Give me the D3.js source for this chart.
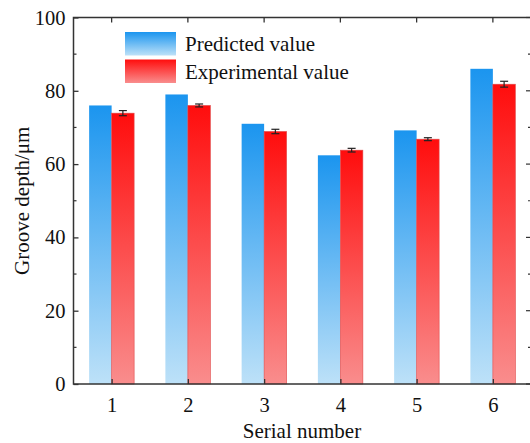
<!DOCTYPE html>
<html>
<head>
<meta charset="utf-8">
<script src="https://cdn.jsdelivr.net/npm/d3@7/dist/d3.min.js"></script>
<style>
  html, body { margin: 0; padding: 0; background: #fff; }
  svg { display: block; }
</style>
</head>
<body>
<svg id="chart" width="530" height="443"></svg>
<script>
// Groove depth: predicted vs experimental, per serial number
const serials = [1, 2, 3, 4, 5, 6];
const predicted = [76.0, 79.0, 71.0, 62.4, 69.2, 86.0];
const experimental = [73.9, 76.0, 68.9, 63.8, 66.8, 81.8];
const experimentalErr = [0.7, 0.4, 0.6, 0.5, 0.4, 0.8];
const yTicks = [0, 20, 40, 60, 80, 100];
const seriesNames = ["Predicted value", "Experimental value"];

const FONT = '"Liberation Serif", "Times New Roman", Tinos, serif';

const svg = d3.select("#chart");
const margin = { left: 73.5, top: 17.5, right: -1, bottom: 59 };
const W = 530, H = 443;

const x = d3.scaleLinear().domain([0.5, 6.5]).range([margin.left, W - margin.right]);
const y = d3.scaleLinear().domain([0, 100]).range([H - margin.bottom, margin.top]);
const barW = 0.295; // in category units

// gradients
const defs = svg.append("defs");
function grad(id, top, bottom) {
  const g = defs.append("linearGradient").attr("id", id)
    .attr("x1", 0).attr("y1", 0).attr("x2", 0).attr("y2", 1);
  g.append("stop").attr("offset", "0%").attr("stop-color", top);
  g.append("stop").attr("offset", "100%").attr("stop-color", bottom);
}
grad("gBlue", "#1b95ef", "#bde1f8");
grad("gRed", "#ff0d0d", "#f98d8d");

// bars
const bars = svg.append("g");
bars.selectAll("rect.pred").data(serials).join("rect")
  .attr("class", "pred")
  .attr("x", (d) => x(d - barW))
  .attr("width", (d) => x(d) - x(d - barW))
  .attr("y", (d, i) => y(predicted[i]))
  .attr("height", (d, i) => y(0) - y(predicted[i]))
  .attr("fill", "url(#gBlue)");

bars.selectAll("rect.exp").data(serials).join("rect")
  .attr("class", "exp")
  .attr("x", (d) => x(d))
  .attr("width", (d) => x(d + barW) - x(d))
  .attr("y", (d, i) => y(experimental[i]))
  .attr("height", (d, i) => y(0) - y(experimental[i]))
  .attr("fill", "url(#gRed)")
  .attr("stroke", "#e04848").attr("stroke-width", 0.6);

// error bars on experimental
const eb = svg.append("g").attr("stroke", "#222").attr("stroke-width", 1.2);
serials.forEach((d, i) => {
  const cx = x(d + barW / 2);
  const y1 = y(experimental[i] + experimentalErr[i]);
  const y0 = y(experimental[i] - experimentalErr[i]);
  eb.append("line").attr("x1", cx).attr("x2", cx).attr("y1", y1).attr("y2", y0);
  eb.append("line").attr("x1", cx - 4).attr("x2", cx + 4).attr("y1", y1).attr("y2", y1);
  eb.append("line").attr("x1", cx - 4).attr("x2", cx + 4).attr("y1", y0).attr("y2", y0);
});

// frame
const axisColor = "#333";
svg.append("rect")
  .attr("x", x(0.5)).attr("y", y(100))
  .attr("width", x(6.5) - x(0.5)).attr("height", y(0) - y(100))
  .attr("fill", "none").attr("stroke", axisColor).attr("stroke-width", 1.5);

// left axis (ticks inward)
const yMinor = d3.range(10, 100, 20);
const leftAxis = svg.append("g").attr("transform", `translate(${x(0.5)},0)`)
  .call(d3.axisLeft(y).tickValues(yTicks).tickSize(-5).tickPadding(8).tickFormat(d3.format("d")));
leftAxis.select(".domain").remove();
leftAxis.selectAll(".tick line").attr("stroke", axisColor).attr("stroke-width", 1.3);
leftAxis.selectAll("text").attr("font-size", 20.5);
svg.append("g").selectAll("line").data(yMinor).join("line")
  .attr("x1", x(0.5)).attr("x2", x(0.5) + 3)
  .attr("y1", (d) => y(d)).attr("y2", (d) => y(d))
  .attr("stroke", axisColor).attr("stroke-width", 1.2);

// right axis ticks (inward)
svg.append("g").selectAll("line").data(yTicks.concat(yMinor)).join("line")
  .attr("x1", x(6.5)).attr("x2", (d) => x(6.5) - (d % 20 === 0 ? 5 : 3))
  .attr("y1", (d) => y(d)).attr("y2", (d) => y(d))
  .attr("stroke", axisColor).attr("stroke-width", 1.2);

// bottom axis (ticks inward)
const bottomAxis = svg.append("g").attr("transform", `translate(0,${y(0)})`)
  .call(d3.axisBottom(x).tickValues(serials).tickSize(-5).tickPadding(13).tickFormat(d3.format("d")));
bottomAxis.select(".domain").remove();
bottomAxis.selectAll(".tick line").attr("stroke", axisColor).attr("stroke-width", 1.3);
bottomAxis.selectAll("text").attr("font-size", 20.5);

// top ticks (inward)
svg.append("g").selectAll("line").data(serials).join("line")
  .attr("x1", (d) => x(d)).attr("x2", (d) => x(d))
  .attr("y1", y(100)).attr("y2", y(100) + 5)
  .attr("stroke", axisColor).attr("stroke-width", 1.3);

// axis titles
svg.append("text").attr("x", 302).attr("y", 438)
  .attr("text-anchor", "middle").attr("font-size", 21).text("Serial number");
svg.append("text")
  .attr("transform", `translate(29,${y(50)}) rotate(-90)`)
  .attr("text-anchor", "middle").attr("font-size", 21).text("Groove depth/μm");

// legend
const legend = svg.append("g");
const lg = [
  { name: seriesNames[0], fill: "url(#gBlue)", yTop: 32 },
  { name: seriesNames[1], fill: "url(#gRed)", yTop: 59.5 }
];
lg.forEach((l) => {
  legend.append("rect").attr("x", 125).attr("y", l.yTop).attr("width", 51).attr("height", 23.5)
    .attr("fill", l.fill);
  legend.append("text").attr("x", 185).attr("y", l.yTop + 19).attr("font-size", 21).text(l.name);
});

// serif type throughout
svg.selectAll("g").attr("font-family", null);
svg.selectAll("text")
  .style("font-family", FONT)
  .attr("fill", "#111");
</script>
</body>
</html>
